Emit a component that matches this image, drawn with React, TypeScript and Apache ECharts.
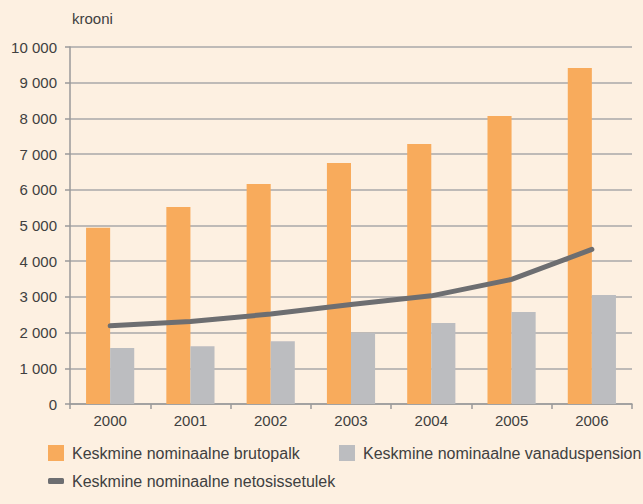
import React, { useEffect, useRef } from "react";
import * as echarts from "echarts";

const years = ["2000", "2001", "2002", "2003", "2004", "2005", "2006"];
const brutopalk = [4940, 5520, 6160, 6750, 7280, 8070, 9410];
const vanaduspension = [1570, 1620, 1760, 1990, 2270, 2580, 3050];
const netosissetulek = [2190, 2310, 2520, 2790, 3030, 3490, 4330];

const NAME_A = "Keskmine nominaalne brutopalk";
const NAME_B = "Keskmine nominaalne vanaduspension";
const NAME_C = "Keskmine nominaalne netosissetulek";

const FONT = "'Liberation Sans', Arial, Helvetica, sans-serif";
const TEXT = "#404040";

const legendText = { fontSize: 16, color: TEXT, fontFamily: FONT, padding: [0, 0, 0, 3] };

export default function App() {
  const ref = useRef<HTMLDivElement>(null);
  useEffect(() => {
    const chart = echarts.init(ref.current!, null, { renderer: "svg" });
    chart.setOption({
      animation: false,
      backgroundColor: "#fdf0e1",
      textStyle: { fontFamily: FONT },
      grid: { left: 70, right: 11, top: 47, bottom: 100, containLabel: false },
      graphic: [
        {
          type: "text",
          left: 72,
          top: 11,
          style: { text: "krooni", fontSize: 15, fontFamily: FONT, fill: TEXT },
        },
      ],
      legend: [
        {
          data: [NAME_A],
          left: 48,
          top: 445,
          padding: 0,
          itemWidth: 16,
          itemHeight: 16,
          icon: "rect",
          textStyle: legendText,
        },
        {
          data: [NAME_B],
          left: 339,
          top: 445,
          padding: 0,
          itemWidth: 16,
          itemHeight: 16,
          icon: "rect",
          textStyle: legendText,
        },
        {
          data: [NAME_C],
          left: 48,
          top: 473,
          padding: 0,
          itemWidth: 16,
          itemHeight: 6,
          icon: "roundRect",
          textStyle: legendText,
        },
      ],
      xAxis: {
        type: "category",
        data: years,
        boundaryGap: true,
        axisLine: { lineStyle: { color: "#9a9a9a", width: 1.5 } },
        axisTick: { show: true, alignWithLabel: false, length: 5, lineStyle: { color: "#9a9a9a", width: 1.5 } },
        axisLabel: { fontSize: 15, color: TEXT, margin: 9, fontFamily: FONT },
      },
      yAxis: {
        type: "value",
        min: 0,
        max: 10000,
        interval: 1000,
        axisLine: { show: true, lineStyle: { color: "#9a9a9a", width: 1.5 } },
        axisTick: { show: true, length: 5, lineStyle: { color: "#9a9a9a", width: 1.5 } },
        axisLabel: {
          fontSize: 15,
          color: TEXT,
          margin: 13,
          fontFamily: FONT,
          formatter: (v: number) => String(v).replace(/\B(?=(\d{3})+(?!\d))/g, " "),
        },
        splitLine: { show: true, lineStyle: { color: "#a8a8a8", width: 1.5 } },
      },
      series: [
        {
          name: NAME_A,
          type: "bar",
          data: brutopalk,
          itemStyle: { color: "#f8ab5c" },
          barGap: "0%",
          barCategoryGap: "40%",
        },
        {
          name: NAME_B,
          type: "bar",
          data: vanaduspension,
          itemStyle: { color: "#bcbdc0" },
          barGap: "0%",
          barCategoryGap: "40%",
        },
        {
          name: NAME_C,
          type: "line",
          data: netosissetulek,
          symbol: "none",
          z: 5,
          itemStyle: { color: "#6d6e71" },
          lineStyle: { color: "#6d6e71", width: 5, cap: "round", join: "round" },
        },
      ],
    });
    return () => chart.dispose();
  }, []);
  return (
    <div
      ref={ref}
      style={{ position: "fixed", left: 0, top: 0, width: 643, height: 504 }}
    />
  );
}
